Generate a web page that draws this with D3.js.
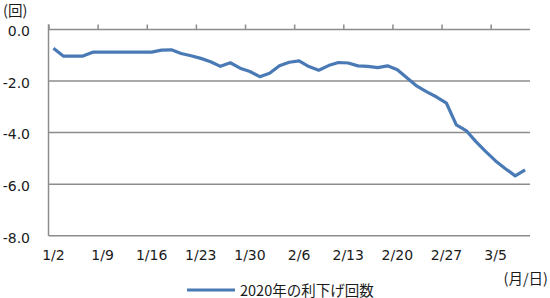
<!DOCTYPE html>
<html><head><meta charset="utf-8">
<script src="https://cdn.jsdelivr.net/npm/d3@7"></script>
<style>body{margin:0;background:#fff}svg{display:block}text{font-family:"DejaVu Sans",Verdana,sans-serif;fill:#1a1a1a}</style>
</head><body>
<script>
const dates = ["1/2","1/3","1/6","1/7","1/8","1/9","1/10","1/13","1/14","1/15","1/16","1/17","1/20","1/21","1/22","1/23","1/24","1/27","1/28","1/29","1/30","1/31","2/3","2/4","2/5","2/6","2/7","2/10","2/11","2/12","2/13","2/14","2/17","2/18","2/19","2/20","2/21","2/24","2/25","2/26","2/27","2/28","3/2","3/3","3/4","3/5","3/6","3/9","3/10"];
const cuts = [-0.73,-1.03,-1.03,-1.03,-0.88,-0.88,-0.88,-0.88,-0.88,-0.88,-0.88,-0.80,-0.79,-0.93,-1.02,-1.12,-1.25,-1.43,-1.29,-1.50,-1.63,-1.83,-1.70,-1.41,-1.27,-1.22,-1.44,-1.58,-1.40,-1.28,-1.30,-1.41,-1.43,-1.48,-1.41,-1.56,-1.88,-2.20,-2.42,-2.62,-2.86,-3.70,-3.92,-4.35,-4.74,-5.10,-5.40,-5.68,-5.45];
const yTicks = [0,-2,-4,-6,-8];
const xLabels = ["1/2","1/9","1/16","1/23","1/30","2/6","2/13","2/20","2/27","3/5"];
const seriesName = "2020年の利下げ回数";

const W=550,H=298, L=48.5, R=530, T=29.5, B=235.7;
const blue="#4a7ab5", grid="#8c8c8c";
const svg=d3.select("body").append("svg").attr("width",W).attr("height",H);
const x=d3.scaleBand().domain(dates).range([L,R]);
const xEdge=d3.scaleLinear().domain([0,dates.length]).range([L,R]);
const y=d3.scaleLinear().domain([-8,0]).range([B,T]);

svg.append("g").selectAll("line").data(yTicks.filter(d=>d!==0)).join("line")
  .attr("x1",L).attr("x2",R).attr("y1",d=>y(d)).attr("y2",d=>y(d))
  .attr("stroke",grid).attr("stroke-width",1.5);
svg.append("line").attr("x1",L).attr("x2",L).attr("y1",T-5).attr("y2",B).attr("stroke",grid).attr("stroke-width",1.5);
const topAx=svg.append("g").attr("transform",`translate(0,${T})`)
  .call(d3.axisTop(xEdge).tickValues(d3.range(0,dates.length,5)).tickSize(5).tickFormat(""));
topAx.select(".domain").attr("stroke",grid).attr("stroke-width",1.5).attr("d",`M${L},0H${R}`);
topAx.selectAll(".tick line").attr("stroke",grid).attr("stroke-width",1.5);

const fmt=d=>d3.format(".1f")(d).replace("−","-");
const yAx=svg.append("g").attr("transform",`translate(30,0)`)
  .call(d3.axisLeft(y).tickValues(yTicks).tickSize(0).tickPadding(0).tickFormat(fmt));
yAx.select(".domain").remove();
yAx.selectAll("text").style("font-size","14px").attr("fill","#1a1a1a").attr("dy","0.45em");

const xAx=svg.append("g").attr("transform",`translate(0,250)`)
  .call(d3.axisBottom(x).tickValues(xLabels).tickSize(0).tickPadding(0));
xAx.select(".domain").remove();
xAx.selectAll("text").style("font-size","14px").attr("fill","#1a1a1a");

svg.append("path").datum(cuts).attr("fill","none").attr("stroke",blue).attr("stroke-width",3.2)
  .attr("stroke-linejoin","round")
  .attr("d",d3.line().x((d,i)=>x(dates[i])+x.bandwidth()/2).y(d=>y(d)));

svg.append("text").attr("x",3).attr("y",16).style("font-size","14.5px").style("font-family","'Noto Sans CJK JP',sans-serif").text("(回)");
svg.append("text").attr("x",548).attr("y",284).attr("text-anchor","end").style("font-size","14.5px").style("font-family","'Noto Sans CJK JP',sans-serif").text("(月/日)");

svg.append("line").attr("x1",187).attr("x2",235).attr("y1",290).attr("y2",290).attr("stroke",blue).attr("stroke-width",3.2);
svg.append("text").attr("x",240).attr("y",295.5).style("font-size","14.5px").style("font-family","'Noto Sans CJK JP',sans-serif").text(seriesName);
</script>
</body></html>
